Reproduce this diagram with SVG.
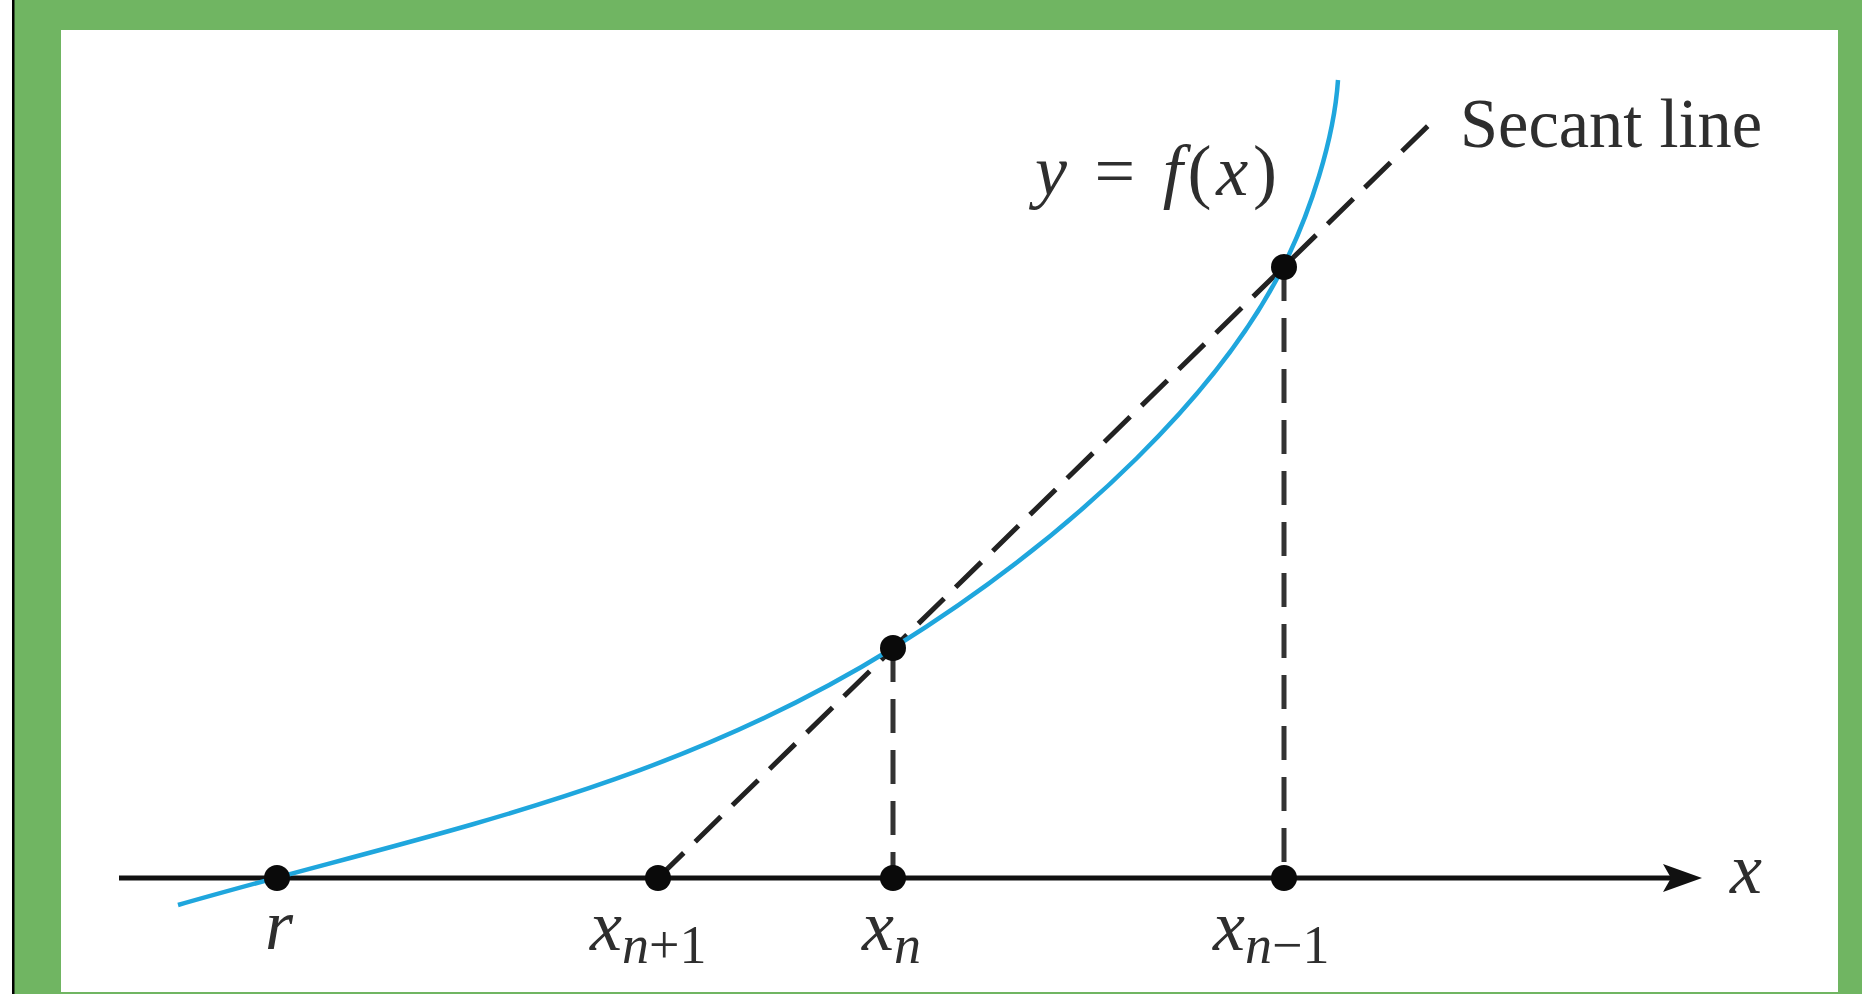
<svg xmlns="http://www.w3.org/2000/svg" width="1862" height="994" viewBox="0 0 1862 994">
  <style>
    .lbl { font-family: "Liberation Serif", "Times New Roman", serif; font-style: italic; fill: #2e2e2e; }
    .up { font-style: normal; }
    .dot { fill: #0a0a0a; }
    .vdash { stroke: #333; stroke-width: 5; stroke-dasharray: 34 17; fill: none; }
  </style>
  <rect x="0" y="0" width="1862" height="994" fill="#ffffff"/>
  <rect x="14" y="0" width="1848" height="994" fill="#70b562"/>
  <rect x="12" y="0" width="2.5" height="994" fill="#000"/>
  <rect x="61" y="30" width="1777" height="962" fill="#ffffff"/>

  <g id="axis">
    <line x1="119" y1="878" x2="1680" y2="878" stroke="#111" stroke-width="5"/>
    <polygon points="1702,878 1663,864 1671,878 1663,892" fill="#111"/>
    <text class="lbl" x="1730" y="893" font-size="72">x</text>
  </g>

  <g id="connectors">
    <line class="vdash" x1="893" y1="648" x2="893" y2="878"/>
    <line class="vdash" x1="1284" y1="267" x2="1284" y2="878"/>
    <line x1="658" y1="878" x2="1434" y2="120" stroke="#222" stroke-width="5" stroke-dasharray="36 16"/>
  </g>

  <g id="curve">
    <path d="M178,905 C428,833 663,791 893,648 C1083,530 1223,387 1283,267 C1310,213 1334,140 1338,80" fill="none" stroke="#1fa6dd" stroke-width="4.5"/>
  </g>

  <g id="point-r">
    <circle class="dot" cx="277" cy="878" r="13"/>
    <text class="lbl" x="265" y="949" font-size="72">r</text>
  </g>
  <g id="point-xn1">
    <circle class="dot" cx="658" cy="878" r="13"/>
    <text class="lbl" x="590" y="950" font-size="72">x<tspan font-size="54" dy="13">n</tspan><tspan class="up" font-size="54">+1</tspan></text>
  </g>
  <g id="point-xn">
    <circle class="dot" cx="893" cy="878" r="13"/>
    <circle class="dot" cx="893" cy="648" r="13"/>
    <text class="lbl" x="862" y="950" font-size="72">x<tspan font-size="54" dy="13">n</tspan></text>
  </g>
  <g id="point-xnm1">
    <circle class="dot" cx="1284" cy="878" r="13"/>
    <circle class="dot" cx="1284" cy="267" r="13"/>
    <text class="lbl" x="1213" y="950" font-size="72">x<tspan font-size="54" dy="13">n</tspan><tspan class="up" font-size="54">−1</tspan></text>
  </g>

  <g id="label-fx">
    <text class="lbl" x="1035" y="195" font-size="72" textLength="242" lengthAdjust="spacing">y <tspan class="up">=</tspan> f<tspan class="up">(</tspan>x<tspan class="up">)</tspan></text>
  </g>
  <g id="label-secant">
    <text class="lbl up" x="1460" y="147" font-size="70" textLength="302" lengthAdjust="spacingAndGlyphs">Secant line</text>
  </g>
</svg>
